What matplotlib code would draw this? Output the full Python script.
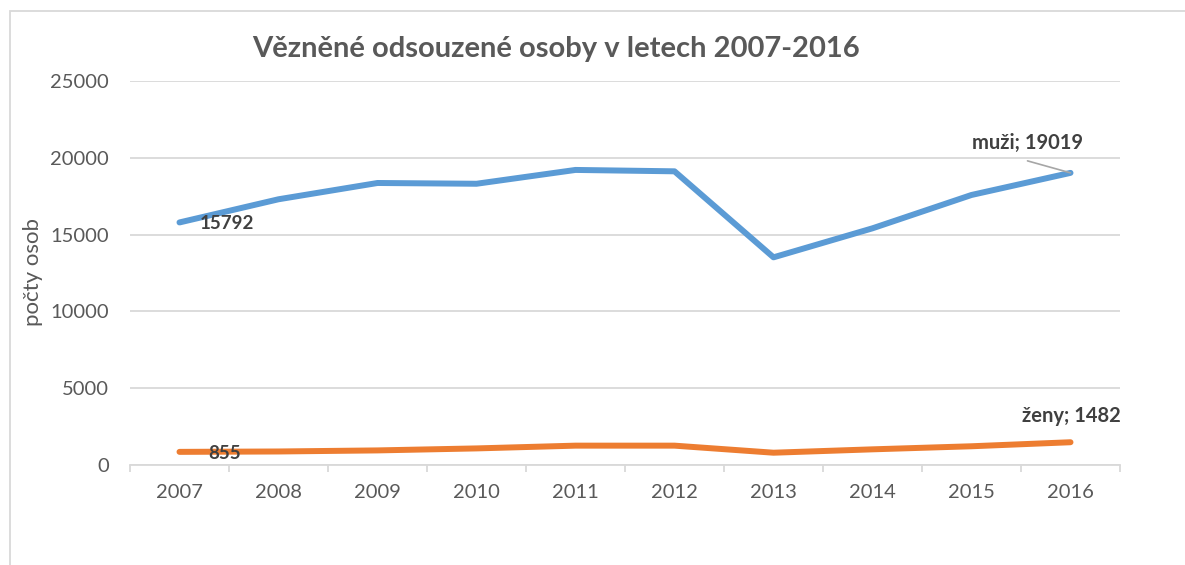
import matplotlib
matplotlib.use('Agg')
import matplotlib.pyplot as plt
from matplotlib.patches import Rectangle
from matplotlib.ticker import FixedLocator

years = ['2007', '2008', '2009', '2010', '2011', '2012', '2013', '2014', '2015', '2016']
muzi = [15792, 17300, 18360, 18310, 19210, 19120, 13520, 15410, 17580, 19019]
zeny = [855, 880, 950, 1080, 1260, 1260, 800, 1020, 1220, 1482]

plt.rcParams['font.family'] = ['Lato', 'DejaVu Sans']
grey = '#595959'
dark = '#404040'

fig = plt.figure(figsize=(11.85, 5.65), dpi=100)
ax = fig.add_axes([130 / 1185, 1 - 465 / 565, 990 / 1185, 384 / 565])

x = list(range(len(years)))
ax.plot(x, muzi, color='#5B9BD5', linewidth=4.3, solid_capstyle='round', zorder=3)
ax.plot(x, zeny, color='#ED7D31', linewidth=4.3, solid_capstyle='round', zorder=3)

ax.set_xlim(-0.5, len(years) - 0.5)
ax.set_ylim(0, 25000)
ax.set_yticks(range(0, 25001, 5000))
ax.set_xticks(x)
ax.set_xticklabels(years)
ax.xaxis.set_minor_locator(FixedLocator([i - 0.5 for i in range(len(years) + 1)]))

ax.grid(axis='y', color='#d9d9d9', linewidth=1.3)
ax.set_axisbelow(True)
for s in ['top', 'right', 'left']:
    ax.spines[s].set_visible(False)
ax.spines['bottom'].set_color('#d9d9d9')
ax.spines['bottom'].set_linewidth(1.3)

ax.tick_params(axis='y', length=0, pad=15, labelsize=14.5, labelcolor=grey)
ax.tick_params(axis='x', which='major', length=0, pad=14, labelsize=14.5, labelcolor=grey)
ax.tick_params(axis='x', which='minor', length=5, width=1.3, color='#d9d9d9')

# data labels: first point on the right, last point with the series name
ax.annotate(str(muzi[0]), (0, muzi[0]), xytext=(20, -1), textcoords='offset pixels',
            ha='left', va='center', fontsize=13.5, fontweight='bold', color=dark)
ax.annotate(str(zeny[0]), (0, zeny[0]), xytext=(29, -2), textcoords='offset pixels',
            ha='left', va='center', fontsize=13.5, fontweight='bold', color=dark)
ax.annotate('muži; %d' % muzi[-1], (9, muzi[-1]), xytext=(-43, 30), textcoords='offset pixels',
            ha='center', va='center', fontsize=14.5, fontweight='bold', color=dark)
# leader line from the label to the last point
ax.annotate('', (9, muzi[-1]), xytext=(-43, 12), textcoords='offset pixels',
            arrowprops=dict(arrowstyle='-', color='#a6a6a6', lw=1.2, shrinkA=0, shrinkB=0))
ax.annotate('ženy; %d' % zeny[-1], (9, zeny[-1]), xytext=(1, 26), textcoords='offset pixels',
            ha='center', va='center', fontsize=14.5, fontweight='bold', color=dark)

fig.text(33 / 1185, 1 - 272 / 565, 'počty osob', rotation=90, ha='center', va='center',
         fontsize=16, color=grey)
fig.text(556 / 1185, 1 - 49 / 565, 'Vězněné odsouzené osoby v letech 2007-2016',
         ha='center', va='center', fontsize=21, fontweight='bold', color=grey)

# chart area border
fig.patches.append(Rectangle((10 / 1185, -0.1), 1.2, 1 - 11 / 565 + 0.1, transform=fig.transFigure,
                             fill=False, edgecolor='#d9d9d9', linewidth=1.3))

fig.savefig('out.png', dpi=100)
